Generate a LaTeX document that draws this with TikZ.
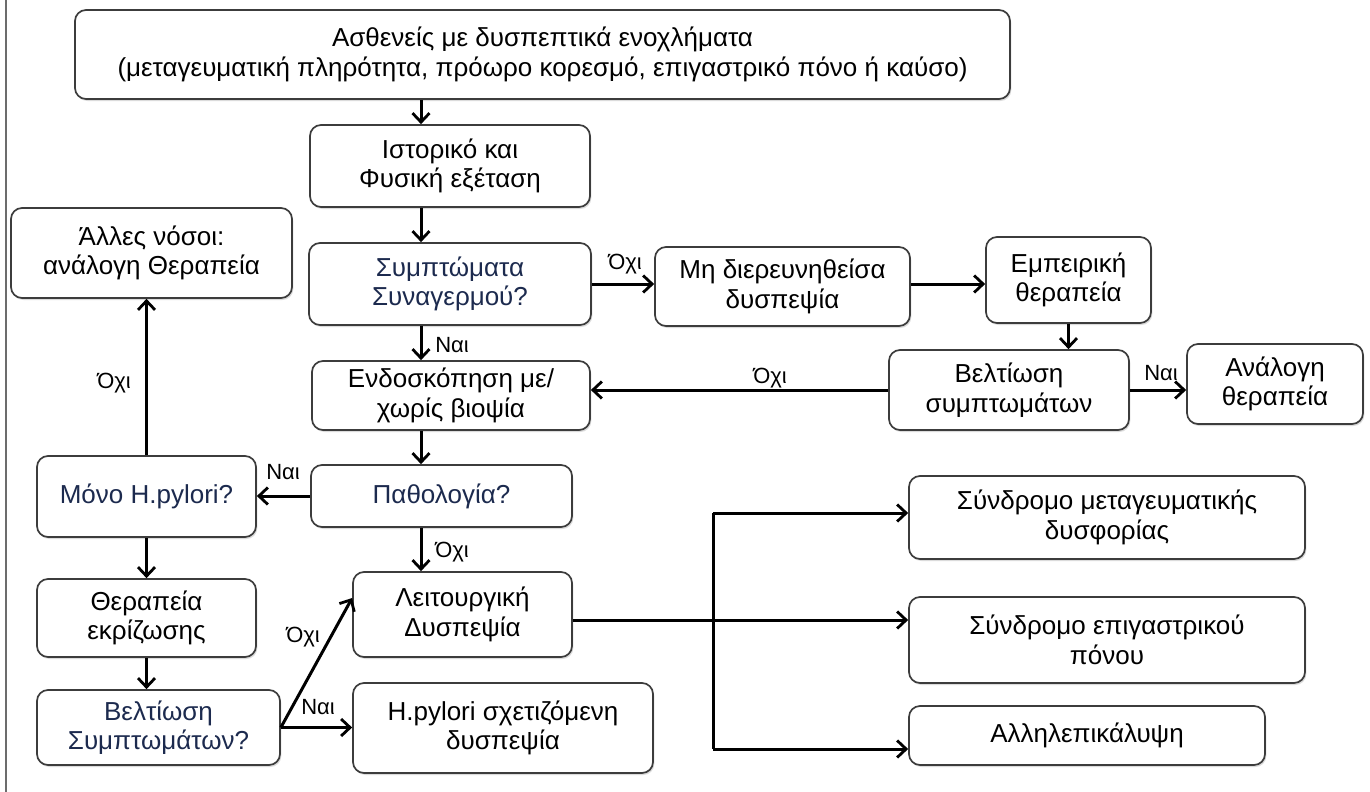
\documentclass[tikz,border=0pt]{standalone}
\usepackage{fontspec}
\setmainfont{Liberation Sans}
\usetikzlibrary{arrows.meta,shadows,calc}
\definecolor{qcol}{RGB}{28,42,78}
\definecolor{bordercol}{RGB}{60,60,60}
\begin{document}
\begin{tikzpicture}[x=1pt,y=-1pt,
  box/.style={draw=bordercol, line width=1.7pt, rounded corners=11pt, fill=white,
    align=center, inner sep=2pt, font=\fontsize{26}{29.5}\selectfont,
    drop shadow={opacity=0.28, shadow xshift=1.3pt, shadow yshift=-2pt}},
  qbox/.style={box, text=qcol},
  lbl/.style={font=\fontsize{22}{24}\selectfont, inner sep=0pt},
  conn/.style={line width=3pt, black},
  arr/.style={conn, -{Straight Barb[length=9pt,width=17pt,line width=2.8pt]}}
]
\useasboundingbox (0,0) rectangle (1370,792);
\fill[white] (0,0) rectangle (1370,792);
\draw[gray!85!black, line width=2pt] (5.5,0) -- (5.5,792);

\node[box, minimum width=935, minimum height=89] (top) at (542.5,54.5)
  {Ασθενείς με δυσπεπτικά ενοχλήματα\\(μεταγευματική πληρότητα, πρόωρο κορεσμό, επιγαστρικό πόνο ή καύσο)};
\node[box, minimum width=280, minimum height=82] (hist) at (450,166) {Ιστορικό και\\Φυσική εξέταση};
\node[box, minimum width=281, minimum height=90] (other) at (151.5,253) {Άλλες νόσοι:\\ανάλογη Θεραπεία};
\node[qbox, minimum width=282, minimum height=82] (alarm) at (450,284) {Συμπτώματα\\Συναγερμού?};
\node[box, minimum width=255, minimum height=79] (undx) at (782.5,286.5) {Μη διερευνηθείσα\\δυσπεψία};
\node[box, minimum width=165, minimum height=86] (emp) at (1068.5,280) {Εμπειρική\\θεραπεία};
\node[box, minimum width=240, minimum height=80] (impr) at (1009,390) {Βελτίωση\\συμπτωμάτων};
\node[box, minimum width=176, minimum height=80] (appr) at (1275,384) {Ανάλογη\\θεραπεία};
\node[box, minimum width=278, minimum height=69] (endo) at (451,395.5) {Ενδοσκόπηση με/\\χωρίς βιοψία};
\node[qbox, minimum width=219, minimum height=81] (hp) at (146.5,496.5) {Μόνο H.pylori?};
\node[qbox, minimum width=261, minimum height=62] (path) at (441.5,496) {Παθολογία?};
\node[box, minimum width=219, minimum height=78] (erad) at (146.5,618) {Θεραπεία\\εκρίζωσης};
\node[qbox, minimum width=243, minimum height=75] (impr2) at (158.5,727.5) {Βελτίωση\\Συμπτωμάτων?};
\node[box, minimum width=219, minimum height=85] (func) at (462.5,614.5) {Λειτουργική\\Δυσπεψία};
\node[box, minimum width=300, minimum height=90] (hpdys) at (503,728) {H.pylori σχετιζόμενη\\δυσπεψία};
\node[box, minimum width=396, minimum height=83] (pds) at (1107,517.5) {Σύνδρομο μεταγευματικής\\δυσφορίας};
\node[box, minimum width=396, minimum height=86] (eps) at (1107,640) {Σύνδρομο επιγαστρικού\\πόνου};
\node[box, minimum width=356, minimum height=59] (ovl) at (1087,735.5) {Αλληλεπικάλυψη};

\coordinate (cx) at (421,0);
\coordinate (s1) at (713,513);
\coordinate (s0) at (713,620);
\coordinate (s2) at (713,749);
\coordinate (fy) at (0,598);

\draw[arr] (top.south -| cx) -- (hist.north -| cx);
\draw[arr] (hist.south -| cx) -- (alarm.north -| cx);
\draw[arr] (alarm.south -| cx) -- (endo.north -| cx);
\draw[arr] (endo.south -| cx) -- (path.north -| cx);
\draw[arr] (path.south -| cx) -- (func.north -| cx);
\draw[arr] (alarm.east) -- (undx.west |- alarm.east);
\draw[arr] (undx.east |- alarm.east) -- (emp.west |- alarm.east);
\draw[arr] (emp.south) -- (impr.north -| emp.south);
\draw[arr] (impr.east) -- (appr.west |- impr.east);
\draw[arr] (impr.west) -- (endo.east |- impr.west);
\draw[arr] (path.west) -- (hp.east |- path.west);
\draw[arr] (hp.north) -- (other.south -| hp.north);
\draw[arr] (hp.south) -- (erad.north);
\draw[arr] (erad.south) -- (impr2.north -| erad.south);
\draw[arr] (impr2.east) -- (func.west |- fy);
\draw[arr] (impr2.east) -- (hpdys.west |- impr2.east);
\draw[arr] (func.east |- s0) -- (eps.west |- s0);
\draw[conn] (s1) -- (s2);
\draw[arr] (s1) -- (pds.west |- s1);
\draw[arr] (s2) -- (ovl.west |- s2);

\node[lbl] (l1) at (625,264) {Όχι};
\node[lbl] (l2) at (452,345) {Ναι};
\node[lbl] (l3) at (770,378) {Όχι};
\node[lbl] (l4) at (1161,373) {Ναι};
\node[lbl] (l5) at (283,472) {Ναι};
\node[lbl] (l6) at (452,552) {Όχι};
\node[lbl] (l7) at (114,383) {Όχι};
\node[lbl] (l8) at (303,637) {Όχι};
\node[lbl] (l9) at (318,707) {Ναι};
\end{tikzpicture}
\end{document}
